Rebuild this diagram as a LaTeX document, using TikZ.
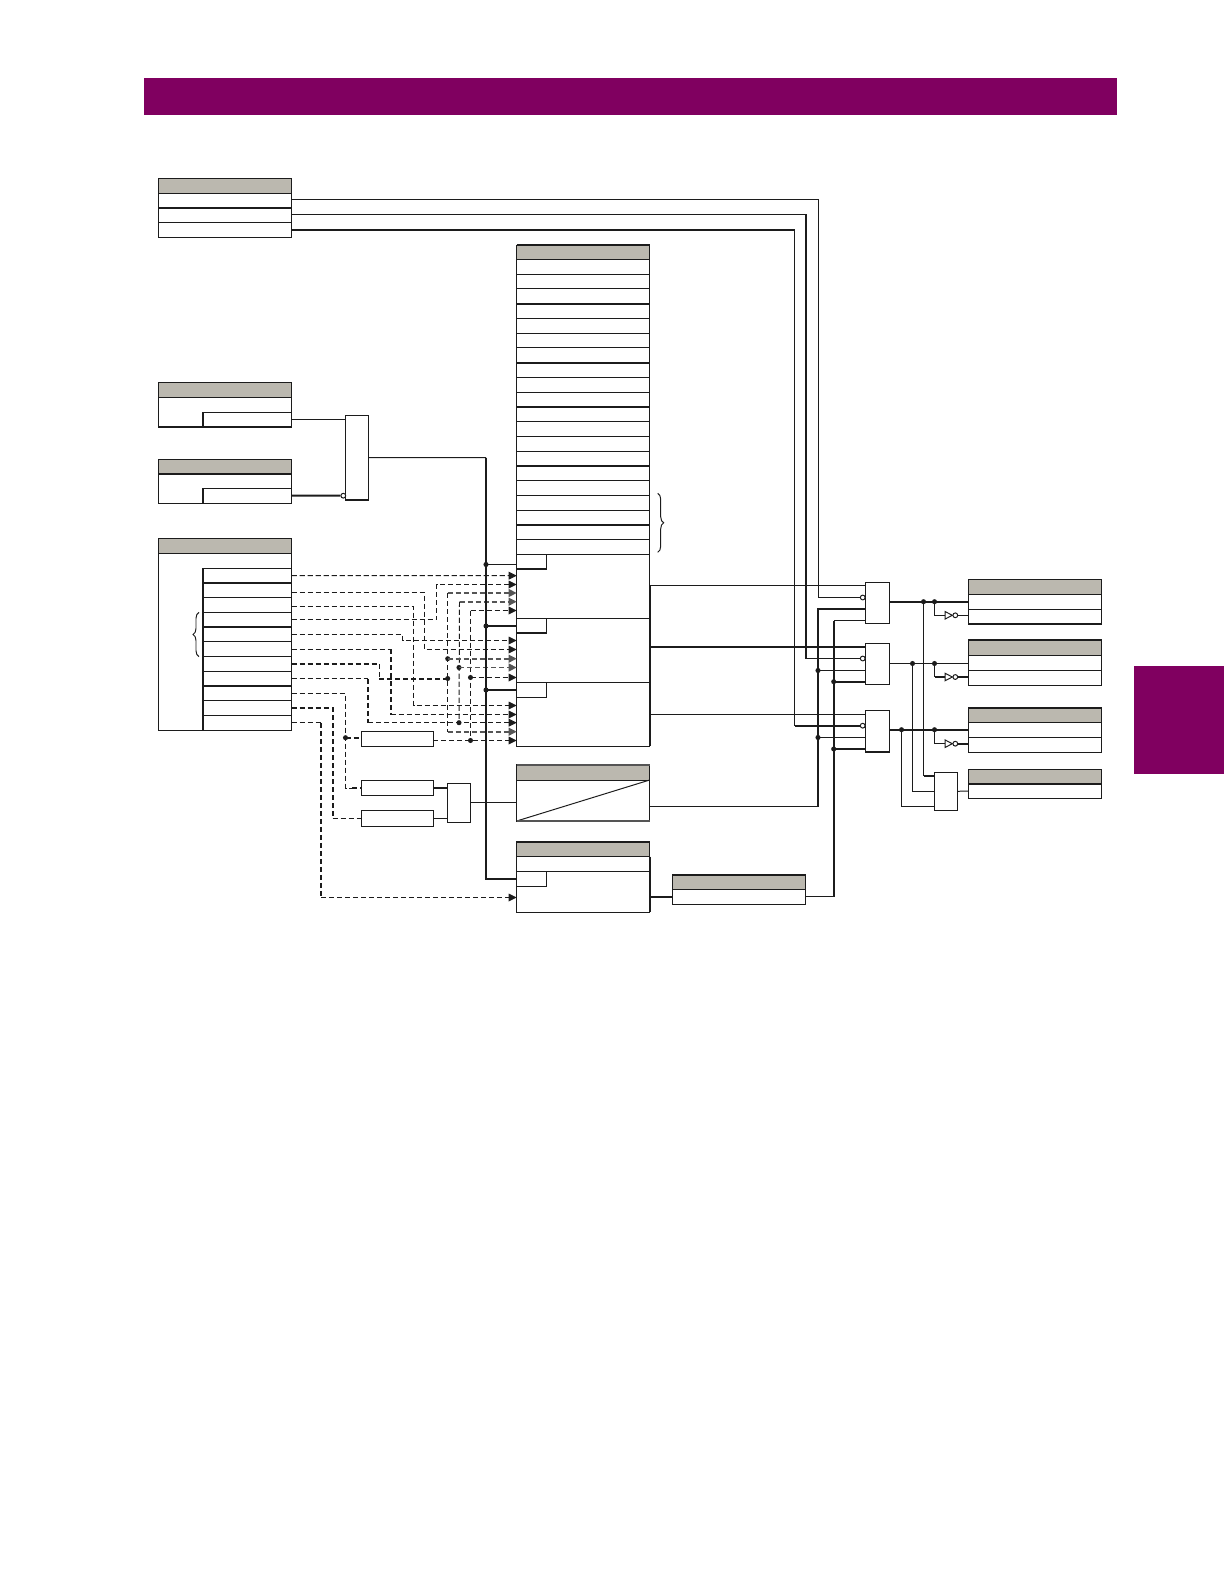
\documentclass[tikz,border=0pt]{standalone}
\usepackage{tikz}
\usetikzlibrary{arrows.meta,decorations.pathreplacing}

\definecolor{bandcol}{HTML}{800060}
\definecolor{headcol}{HTML}{BBB8AF}
\definecolor{inkcol}{HTML}{1C1C1C}
\definecolor{midcol}{HTML}{555555}

\tikzset{
  block/.style={draw=inkcol, line width=0.74pt, inner sep=0pt, outer sep=0pt, anchor=north west},
  head/.style={block, fill=headcol},
  wire/.style={draw=inkcol, line width=0.74pt},
  bus/.style={draw=inkcol, line width=1.5pt},
  sig/.style={draw=inkcol, line width=0.74pt, dash pattern=on 3.8pt off 2.2pt},
  sigmid/.style={draw=midcol, line width=1.3pt, dash pattern=on 3.8pt off 2.2pt},
  sigbus/.style={draw=inkcol, line width=1.5pt, dash pattern=on 3.8pt off 2.2pt},
  dot/.style={circle, fill=inkcol, inner sep=0pt, outer sep=0pt, minimum size=3.8pt},
  bubble/.style={circle, draw=inkcol, fill=white, line width=0.74pt, inner sep=0pt, minimum size=3.6pt}
}

% name, x1, y1, x2, y2 (reference pixels)
\newcommand{\blockat}[6][block]{%
  \node[#1, minimum width={(#5-#3)*0.75pt}, minimum height={(#6-#4)*0.75pt}] (#2) at (#3,#4) {};}
% name, x1, x2, top, row height, rows
\newcommand{\rowsat}[6]{%
  \foreach \i in {1,...,#6} {
    \pgfmathsetmacro{\rowy}{#4+(\i-1)*#5}
    \pgfmathsetmacro{\rowz}{#4+\i*#5}
    \blockat{#1\i}{#2}{\rowy}{#3}{\rowz}
  }}

\begin{document}
\begin{tikzpicture}[x=0.75pt, y=-0.75pt, >={Triangle[length=6pt,width=5.8pt]}, line join=miter]
  \useasboundingbox (0,0) rectangle (1224,1584);

  % Band and tab
  \fill[bandcol] (144,78) rectangle (1116.7,114.7);
  \fill[bandcol] (1134,666) rectangle (1224,774);

  % Table at top left
  \blockat[head]{hdrMode}{158.3}{178.3}{291.7}{193.3}
  \rowsat{mode}{158.3}{291.7}{193.3}{14.67}{3}
  \draw[bus] (mode1.south west) -- (mode1.south east);

  % Two small tables
  \blockat[head]{hdrFlagA}{158.3}{382.3}{291.7}{397.3}
  \blockat{flagA}{158.3}{397.3}{291.7}{427}
  \blockat{cellA}{202.7}{412.3}{291.7}{427}
  \draw[bus] (cellA.north west) -- (cellA.south west);
  \draw[bus] (flagA.south west) -- (flagA.south east);
  \blockat[head]{hdrFlagB}{158.3}{459.3}{291.7}{474}
  \blockat{flagB}{158.3}{474}{291.7}{503}
  \blockat{cellB}{202.7}{488.3}{291.7}{503}
  \draw[bus] (cellB.north west) -- (cellB.south west);
  \draw[bus] (hdrFlagB.south west) -- (hdrFlagB.south east);

  % Gate after the small tables
  \blockat{orFlag}{345.3}{415.3}{368.7}{500}
  \draw[bus] (orFlag.south west) -- (orFlag.south east);
  \node[bubble] (bubFlag) at (343.3,495.7) {};
  \draw[wire] (cellA.east) -- (cellA.east -| orFlag.west);
  \draw[bus] (cellB.east) -- (bubFlag.west);

  % Table of signals
  \blockat[head]{hdrCtrl}{158.3}{538}{291.7}{553.3}
  \blockat{ctrl}{158.3}{553.3}{291.7}{730.3}
  \rowsat{ctrl}{202.7}{291.7}{568.3}{14.73}{11}
  \foreach \n in {1,4,8} \draw[bus] (ctrl\n.south west) -- (ctrl\n.south east);
  \draw[bus] (ctrl1.north west) -- (ctrl11.south west);
  \draw[line width=0.74pt, draw=inkcol, decorate, decoration={brace, amplitude=4.5pt}]
    (199,656.7) -- (199,612.3);

  % Tall table
  \blockat[head]{hdrMain}{516.7}{245}{649.7}{259.3}
  \rowsat{main}{516.7}{649.7}{259.3}{14.75}{20}
  \draw[bus] (hdrMain.north west) -- (hdrMain.north east);
  \foreach \n in {3,7,10,14,18} \draw[bus] (main\n.south west) -- (main\n.south east);
  \draw[line width=0.74pt, draw=inkcol, decorate, decoration={brace, amplitude=4.5pt}]
    (657.7,493.3) -- (657.7,552.3);
  \foreach \n/\ya/\yb in {A/554.3/618.3, B/618.3/682.3, C/682.3/746.3} {
    \blockat{main\n}{516.7}{\ya}{649.7}{\yb}
    \pgfmathsetmacro{\yc}{\ya+14.8}
    \blockat{tag\n}{516.7}{\ya}{546.3}{\yc}
  }
  \draw[bus] (tagA.south west) -- (tagA.south east);
  \draw[bus] (tagB.south west) -- (tagB.south east);
  \draw[line width=1.3pt, draw=inkcol] (mainA.east) -- (mainC.south east);

  % Table with the diagonal
  \blockat[head]{hdrRamp}{516.7}{764.7}{649.7}{780}
  \blockat{ramp}{516.7}{780}{649.7}{821}
  \draw[wire] (ramp.south west) -- (ramp.north east);
  \draw[line width=1.3pt, draw=midcol] (ramp.south west) -- (ramp.south east);
  \draw[line width=1.3pt, draw=midcol] (hdrRamp.north west) -- (hdrRamp.north east);

  % Table under it and its neighbour
  \blockat[head]{hdrHold}{516.7}{841.7}{649.7}{856.7}
  \blockat{hold}{516.7}{856.7}{649.7}{871.3}
  \blockat{holdBody}{516.7}{871.3}{649.7}{912.3}
  \blockat{tagHold}{516.7}{871.3}{546.3}{886.3}
  \draw[bus] (hdrHold.north west) -- (hdrHold.north east);
  \draw[line width=1.3pt, draw=inkcol] (hold.north east) -- (holdBody.south east);
  \blockat[head]{hdrDrop}{672.3}{875}{805.7}{889.3}
  \blockat{drop}{672.3}{889.3}{805.7}{904.3}
  \draw[bus] (hdrDrop.north west) -- (hdrDrop.north east);

  % Small boxes
  \blockat{timerA}{361.3}{731}{433.3}{746.7}
  \blockat{timerB}{361.3}{780.3}{433.3}{795.3}
  \blockat{timerC}{361.3}{810.7}{433.3}{826.3}
  \blockat{orTimer}{447.3}{783.3}{470.7}{822.3}

  % Three gates on the right
  \blockat{andA}{865.3}{582.3}{889.3}{623.3}
  \blockat{andB}{865.3}{643.3}{889.3}{684.3}
  \blockat{andC}{865.3}{710.3}{889.3}{752}
  \blockat{orOut}{934.3}{772.3}{957.7}{810.3}
  \draw[bus] (andC.south west) -- (andC.south east);

  % Tables on the right
  \blockat[head]{hdrOutA}{968.3}{579.3}{1101.7}{594.3}
  \rowsat{outA}{968.3}{1101.7}{594.3}{14.7}{2}
  \blockat[head]{hdrOutB}{968.3}{640.3}{1101.7}{655.3}
  \rowsat{outB}{968.3}{1101.7}{655.3}{15}{2}
  \blockat[head]{hdrOutC}{968.3}{707.7}{1101.7}{722.3}
  \rowsat{outC}{968.3}{1101.7}{722.3}{15}{2}
  \blockat[head]{hdrOutD}{968.3}{769.3}{1101.7}{783.7}
  \blockat{outD}{968.3}{783.7}{1101.7}{798.3}
  \draw[bus] (outA2.south west) -- (outA2.south east);
  \draw[bus] (hdrOutB.north west) -- (hdrOutB.north east);
  \draw[bus] (hdrOutC.north west) -- (hdrOutC.north east);
  \draw[bus] (hdrOutD.south west) -- (hdrOutD.south east);

  % Inverters
  \foreach \n/\y in {A/615.3, B/677, C/743.7} {
    \draw[draw=inkcol, line width=0.74pt, fill=white] (945,\y-3.8) -- (952.3,\y) -- (945,\y+3.8) -- cycle;
    \node[bubble] (bubInv\n) at (955.3,\y) {};
    \coordinate (inv\n) at (945,\y);
  }

  % Arrow ends on the tall table
  \foreach \n/\y in {A1/575.7, A2/584.5, A3/593, A4/601.7, A5/610.5,
                     B1/640.5, B2/649.5, B3/658.7, B4/667.5, B5/677.5,
                     C1/705.5, C2/714.5, C3/722.7, C4/731.7, C5/740.5,
                     H/897.5}
    \coordinate (in\n) at (516.7,\y);

  % Dots on the dashed risers
  \node[dot] (dotP) at (447.7,658.7) {};
  \node[dot] (dotQ) at (447.7,678.5) {};
  \node[dot] (dotR) at (459,667.5) {};
  \node[dot] (dotS) at (459,722.7) {};
  \node[dot] (dotT) at (470.5,677.5) {};
  \node[dot] (dotU) at (470.5,740.5) {};
  \node[dot] (dotV) at (345.5,737.7) {};

  % Dashed signals
  \draw[sig, ->] (ctrl1.east) -- (inA1);
  \draw[sig, ->] ([yshift=-1.5pt]ctrl2.east) -| (424.5,649.5) -- (inB2);
  \draw[sig, ->] ([yshift=-0.9pt]ctrl3.east) -| (413.5,705.5) -- (inC1);
  \draw[sig, ->] (ctrl4.east) -| (436.5,584.5) -- (inA2);
  \draw[sig, ->] (ctrl5.east) -| (402.5,640.5) -- (inB1);
  \draw[sig] (ctrl6.east) -- (ctrl6.east -| 390.7,0);
  \draw[sigbus] (ctrl6.east -| 390.7,0) -- (390.7,714.5);
  \draw[sig, ->] (390.7,714.5) -- (inC2);
  \draw[sigbus] (ctrl7.east) -- (ctrl7.east -| 379.3,0);
  \draw[sig] (ctrl7.east -| 379.3,0) -- (379.3,678.5);
  \draw[sigbus] (379.3,678.5) -- (dotQ.center);
  \draw[sig] (ctrl8.east) -- (ctrl8.east -| 368,0);
  \draw[sigbus] (ctrl8.east -| 368,0) -- (368,722.7);
  \draw[sig, ->] (368,722.7) -- (inC3);
  \draw[sig] (ctrl9.east) -| (dotV.center) |- (352,788);
  \draw[sigbus] (352,788) -- (timerB.west |- 352,788);
  \draw[sigbus] (dotV.center) -- (timerA.west |- dotV);
  \draw[sigbus] (ctrl10.east) -| (332.7,818.5);
  \draw[sig] (332.7,818.5) -- (timerC.west |- 332.7,818.5);
  \draw[sig] (ctrl11.east) -- (ctrl11.east -| 321,0);
  \draw[sigbus] (ctrl11.east -| 321,0) -- (321,897.5);
  \draw[sig, ->] (321,897.5) -- (inH);

  % Risers
  \draw[sig] (447.5,593) -- (447.5,731.7);
  \draw[sig] (459.5,601.7) -- (dotS.center);
  \draw[sig] (470.5,610.5) -- (dotU.center);
  \draw[sigmid, ->] (447.5,593) -- (inA3);
  \draw[sigmid, ->] (459.5,601.7) -- (inA4);
  \draw[sig, ->] (470.5,610.5) -- (inA5);
  \draw[sigmid, ->] (dotP.center) -- (inB3);
  \draw[sigmid, ->] (dotR.center) -- (inB4);
  \draw[sig, ->] (dotT.center) -- (inB5);
  \draw[sigmid, ->] (447.5,731.7) -- (inC4);
  \draw[sig, ->] (timerA.east |- inC5) -- (inC5);

  % Bus to the tall table
  \coordinate (busTop) at (486,457.7);
  \coordinate (busEnd) at (486,878.7);
  \node[dot] (dotEnA) at (486,564.5) {};
  \node[dot] (dotEnB) at (486,626) {};
  \node[dot] (dotEnC) at (486,690) {};
  \draw[wire] (orFlag.east) -- (busTop);
  \draw[bus] (busTop) -- (busEnd) -- (busEnd -| tagHold.west);
  \draw[wire] (dotEnA.center) -- (dotEnA -| mainA.west);
  \draw[bus] (dotEnB.center) -- (dotEnB -| mainB.west);
  \draw[bus] (dotEnC.center) -- (dotEnC -| mainC.west);

  % Timers to gate and table
  \draw[bus] (timerB.east |- 433,788) -- (orTimer.west |- 433,788);
  \draw[wire] (timerC.east |- 433,818.5) -- (orTimer.west |- 433,818.5);
  \draw[wire] (orTimer.east) -- (orTimer.east -| ramp.west);

  % Gate inputs
  \foreach \n/\ya/\yb/\yc/\yd in {A/585.5/597.5/609/620.5, B/646.7/658.5/670.5/681.7, C/714.5/725.7/737.5/749} {
    \coordinate (g\n1) at (865.3,\ya);
    \node[bubble] (bub\n) at (862.7,\yb) {};
    \coordinate (g\n3) at (865.3,\yc);
    \coordinate (g\n4) at (865.3,\yd);
  }
  \draw[wire] (mainA.east |- gA1) -- (gA1);
  \draw[bus] (mainB.east |- gB1) -- (gB1);
  \draw[wire] (mainC.east |- gC1) -- (gC1);

  % Lines from the table at top left
  \draw[wire] ([yshift=1pt]mode1.east) -| (818.5,597.5) -- (bubA.west);
  \draw[wire] ([yshift=0.75pt]mode2.east) -- ([yshift=0.75pt]mode2.east -| 806,0);
  \draw[bus] ([yshift=0.75pt]mode2.east -| 806,0) -- (806,658.5);
  \draw[wire] (806,658.5) -- (bubB.west);
  \draw[bus] (mode3.east) -- (mode3.east -| 794.5,0);
  \draw[wire] (mode3.east -| 794.5,0) -- (794.5,725.7);
  \draw[bus] (794.5,725.7) -- (bubC.west);

  % Ramp and neighbour lines into the gates
  \node[dot] (dotRampB) at (818,670.5) {};
  \node[dot] (dotRampC) at (818,737.5) {};
  \node[dot] (dotDropB) at (833.7,681.7) {};
  \node[dot] (dotDropC) at (833.7,749) {};
  \draw[wire] (ramp.east |- 650,806.5) -- (818,806.5);
  \draw[bus] (818,806.5) -- (818,609) -- (gA3);
  \draw[wire] (dotRampB.center) -- (gB3);
  \draw[wire] (dotRampC.center) -- (gC3);
  \draw[bus] (holdBody.east |- drop.west) -- (drop.west);
  \draw[wire] (drop.east) -- (834,896.8);
  \draw[bus] (834,896.8) -- (834,620.5);
  \draw[wire] (834,620.5) -- (gA4);
  \draw[bus] (dotDropB.center) -- (gB4);
  \draw[bus] (dotDropC.center) -- (gC4);

  % Gate outputs
  \node[dot] (dotOutA) at (923.5,601.7) {};
  \node[dot] (dotOutB) at (912.5,663.5) {};
  \node[dot] (dotOutC) at (901.5,729.7) {};
  \node[dot] (dotInvA) at (934.5,601.7) {};
  \node[dot] (dotInvB) at (934.5,663.5) {};
  \node[dot] (dotInvC) at (934.5,729.7) {};
  \draw[bus] (andA.east |- dotOutA) -- (outA1.west |- dotOutA);
  \draw[wire] (andB.east |- dotOutB) -- (outB1.west |- dotOutB);
  \draw[bus] (andC.east |- dotOutC) -- (outC1.west |- dotOutC);
  \draw[wire] (dotInvA.center) |- (invA);
  \draw[wire] (dotInvB.center) -- (934.5,677);
  \draw[bus] (934.5,677) -- (invB);
  \draw[wire] (dotInvC.center) |- (invC);
  \draw[wire] (bubInvA.east) -- (bubInvA.east -| outA2.west);
  \draw[bus] (bubInvB.east) -- (bubInvB.east -| outB2.west);
  \draw[bus] (bubInvC.east) -- (bubInvC.east -| outC2.west);

  % Gate before the last table
  \draw[wire] (dotOutA.center) -- (923.5,776);
  \draw[bus] (923.5,776) -- (orOut.west |- 923.5,776);
  \draw[wire] (dotOutB.center) |- (orOut.west);
  \draw[wire] (dotOutC.center) -- (901.5,806.5) -- (orOut.west |- 901.5,806.5);
  \draw[wire] (orOut.east) -- (outD.west);
\end{tikzpicture}
\end{document}
